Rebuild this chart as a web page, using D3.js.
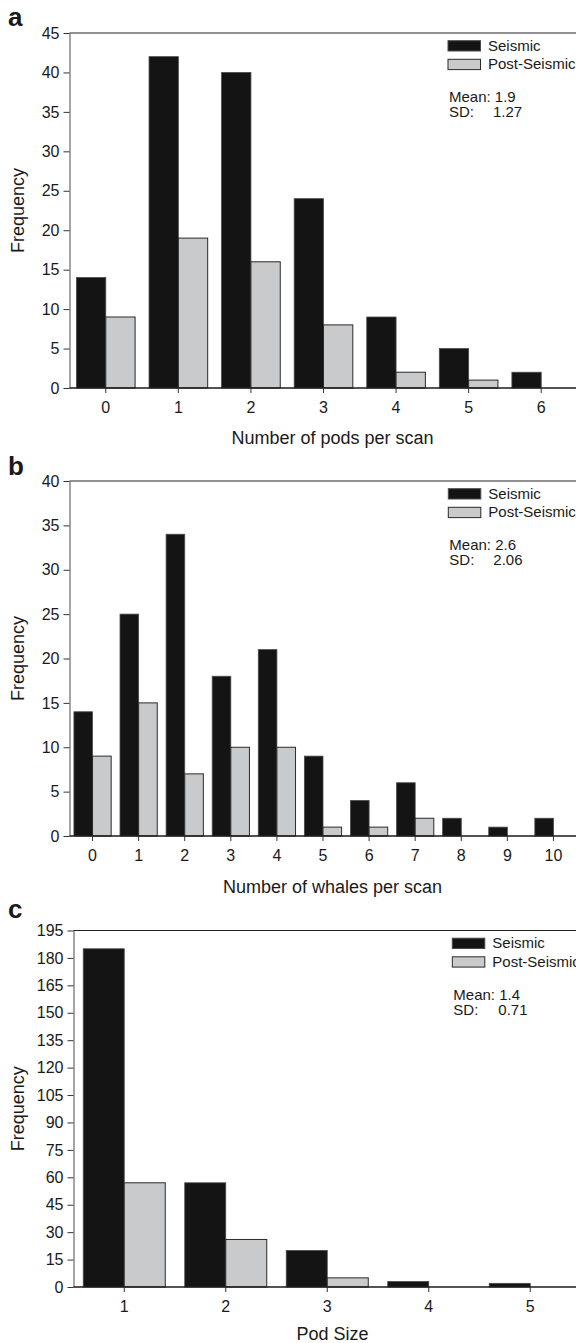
<!DOCTYPE html>
<html><head><meta charset="utf-8">
<script src="https://cdn.jsdelivr.net/npm/d3@7"></script>
<style>
body{margin:0;background:#fff}
svg text{font-family:"Liberation Sans",Arial,Helvetica,sans-serif;fill:#1a1a1a}
</style>
</head><body>
<svg id="chart" width="576" height="1343"></svg>
<script>
// ---- data ----
const seriesNames = ["Seismic", "Post-Seismic"];

const podsCategories = ["0","1","2","3","4","5","6"];
const podsSeismic = [14, 42, 40, 24, 9, 5, 2];
const podsPost = [9, 19, 16, 8, 2, 1, 0];
const podsTicks = [0, 5, 10, 15, 20, 25, 30, 35, 40, 45];
const podsMean = "1.9", podsSD = "1.27";

const whalesCategories = ["0","1","2","3","4","5","6","7","8","9","10"];
const whalesSeismic = [14, 25, 34, 18, 21, 9, 4, 6, 2, 1, 2];
const whalesPost = [9, 15, 7, 10, 10, 1, 1, 2, 0, 0, 0];
const whalesTicks = [0, 5, 10, 15, 20, 25, 30, 35, 40];
const whalesMean = "2.6", whalesSD = "2.06";

const sizeCategories = ["1","2","3","4","5"];
const sizeSeismic = [185, 57, 20, 3, 2];
const sizePost = [57, 26, 5, 0, 0];
const sizeTicks = [0, 15, 30, 45, 60, 75, 90, 105, 120, 135, 150, 165, 180, 195];
const sizeMean = "1.4", sizeSD = "0.71";

const panelLabels = ["a", "b", "c"];
const xTitles = ["Number of pods per scan", "Number of whales per scan", "Pod Size"];
const yTitle = "Frequency";

// ---- layout (positions only) ----
const layouts = [
  {left:69.5, right:577.5, top:33, bottom:388, labelY:26, titleY:443.5, legX:448, meanDx:44},
  {left:69.5, right:576.5, top:481, bottom:836, labelY:475, titleY:893, legX:448.3, meanDx:44},
  {left:73.5, right:581, top:930.5, bottom:1287, labelY:918, titleY:1339.5, legX:452.3, meanDx:45}
];
const panels = [
  {cats:podsCategories, s1:podsSeismic, s2:podsPost, ticks:podsTicks, mean:podsMean, sd:podsSD},
  {cats:whalesCategories, s1:whalesSeismic, s2:whalesPost, ticks:whalesTicks, mean:whalesMean, sd:whalesSD},
  {cats:sizeCategories, s1:sizeSeismic, s2:sizePost, ticks:sizeTicks, mean:sizeMean, sd:sizeSD}
];

const colors = {seismic:"#141414", post:"#c9cacc"};
const svg = d3.select("#chart");

panels.forEach((p, i) => {
  const L = layouts[i];
  const g = svg.append("g");
  const x = d3.scaleBand().domain(p.cats).range([L.left, L.right]).padding(0);
  const y = d3.scaleLinear().domain([0, d3.max(p.ticks)]).range([L.bottom, L.top]);
  const bw = x.bandwidth() * 0.404;
  const cx = c => x(c) + x.bandwidth() / 2;

  // bars
  const d1 = p.cats.map((c, k) => ({c, v:p.s1[k]})).filter(d => d.v > 0);
  const d2 = p.cats.map((c, k) => ({c, v:p.s2[k]})).filter(d => d.v > 0);
  g.selectAll(".b1").data(d1).join("rect")
    .attr("x", d => cx(d.c) - bw).attr("width", bw)
    .attr("y", d => y(d.v)).attr("height", d => y(0) - y(d.v))
    .attr("fill", colors.seismic).attr("stroke", "#4a4a4a").attr("stroke-width", 0.8);
  g.selectAll(".b2").data(d2).join("rect")
    .attr("x", d => cx(d.c)).attr("width", bw)
    .attr("y", d => y(d.v)).attr("height", d => y(0) - y(d.v))
    .attr("fill", colors.post).attr("stroke", "#2a2a2a").attr("stroke-width", 1);

  // top frame line
  g.append("line").attr("x1", L.left).attr("x2", 576).attr("y1", L.top).attr("y2", L.top)
    .attr("stroke", "#222").attr("stroke-width", 1.2);

  // y axis
  const ya = g.append("g").attr("transform", `translate(${L.left},0)`)
    .call(d3.axisLeft(y).tickValues(p.ticks).tickSize(6).tickSizeOuter(0).tickPadding(4));
  ya.select(".domain").attr("stroke", "#6a6a6a").attr("stroke-width", 1.2);
  ya.selectAll(".tick line").attr("stroke", "#333");
  ya.selectAll(".tick text").attr("font-size", 16).attr("fill", "#1a1a1a");

  // x axis
  const xa = g.append("g").attr("transform", `translate(0,${L.bottom})`)
    .call(d3.axisBottom(x).tickSize(5).tickSizeOuter(0).tickPadding(8.5));
  xa.select(".domain").attr("stroke", "#1a1a1a").attr("stroke-width", 1.3)
    .attr("d", `M${L.left},0H576`);
  xa.selectAll(".tick line").attr("stroke", "#333");
  xa.selectAll(".tick text").attr("font-size", 16).attr("fill", "#1a1a1a");

  // titles
  g.append("text").attr("x", 332.5).attr("y", L.titleY).attr("text-anchor", "middle")
    .attr("font-size", 18).text(xTitles[i]);
  g.append("text").attr("transform", `translate(24,${(L.top + L.bottom) / 2}) rotate(-90)`)
    .attr("text-anchor", "middle").attr("font-size", 18).text(yTitle);
  g.append("text").attr("x", 8).attr("y", L.labelY).attr("font-size", 26)
    .attr("font-weight", "bold").text(panelLabels[i]);

  // legend
  const lg = g.append("g").attr("transform", `translate(${L.legX},${L.top + 7.7})`);
  seriesNames.forEach((n, k) => {
    lg.append("rect").attr("x", 0).attr("y", k * 18.6).attr("width", 32.5).attr("height", 10.3)
      .attr("fill", k === 0 ? colors.seismic : colors.post)
      .attr("stroke", k === 0 ? "#4a4a4a" : "#2a2a2a").attr("stroke-width", 1);
    lg.append("text").attr("x", 40).attr("y", k * 18.6 + 10.2).attr("font-size", 15).text(n);
  });
  const mg = g.append("g").attr("transform", `translate(${L.legX + 1},${L.top})`);
  mg.append("text").attr("x", 0).attr("y", 69).attr("font-size", 15).text("Mean: " + p.mean);
  mg.append("text").attr("x", 0).attr("y", 84).attr("font-size", 15).text("SD:");
  mg.append("text").attr("x", L.meanDx).attr("y", 84).attr("font-size", 15).text(p.sd);
});
</script>
</body></html>
